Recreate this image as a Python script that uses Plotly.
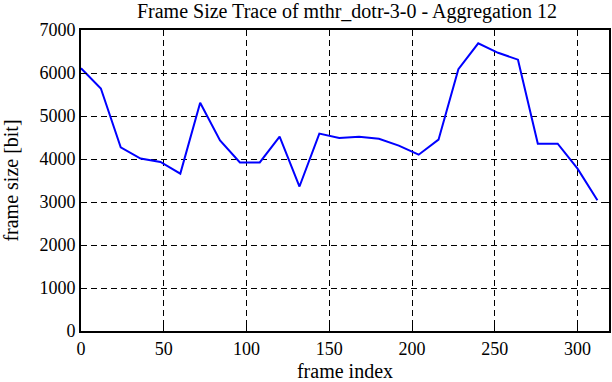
import plotly.graph_objects as go

frame_index = list(range(0, 313, 12))
frame_size = [6110, 5640, 4270, 4010, 3930, 3660, 5310, 4430, 3920, 3920,
              4520, 3360, 4590, 4490, 4515, 4470, 4310, 4100, 4450, 6090,
              6690, 6470, 6310, 4355, 4355, 3775, 3040]
x_ticks = [0, 50, 100, 150, 200, 250, 300]
y_ticks = [0, 1000, 2000, 3000, 4000, 5000, 6000, 7000]

font_family = "Liberation Serif, Times New Roman, serif"

fig = go.Figure()
fig.add_trace(go.Scatter(x=frame_index, y=frame_size, mode="lines",
                         line=dict(color="#0000ff", width=2), showlegend=False))

axis_common = dict(
    showline=True, linecolor="black", linewidth=2, mirror="ticks",
    ticks="inside", ticklen=6, tickcolor="black", tickwidth=1,
    showgrid=True, gridcolor="black", gridwidth=1, griddash="6px,4px",
    zeroline=False, automargin=False,
    tickfont=dict(family=font_family, size=18, color="black"),
)

fig.update_xaxes(range=[0, 319], tickvals=x_ticks,
                 title=dict(text="frame index", font=dict(family=font_family, size=20, color="black"), standoff=8),
                 **axis_common)
fig.update_yaxes(range=[0, 7000], tickvals=y_ticks,
                 title=dict(text="frame size [bit]", font=dict(family=font_family, size=20, color="black"), standoff=21),
                 **axis_common)

fig.update_layout(
    width=612, height=382,
    margin=dict(l=81, r=3, t=30, b=51, autoexpand=False),
    paper_bgcolor="white", plot_bgcolor="white",
    title=dict(text="Frame Size Trace of mthr_dotr-3-0 - Aggregation 12",
               font=dict(family=font_family, size=20, color="black"),
               x=347 / 612, xanchor="center", xref="container",
               y=1 - 11 / 382, yanchor="middle", yref="container", automargin=False),
)

fig.write_html("out.html",
               config={"displayModeBar": False, "staticPlot": True},
               post_script="document.body.style.margin='0';document.body.style.padding='0';")
